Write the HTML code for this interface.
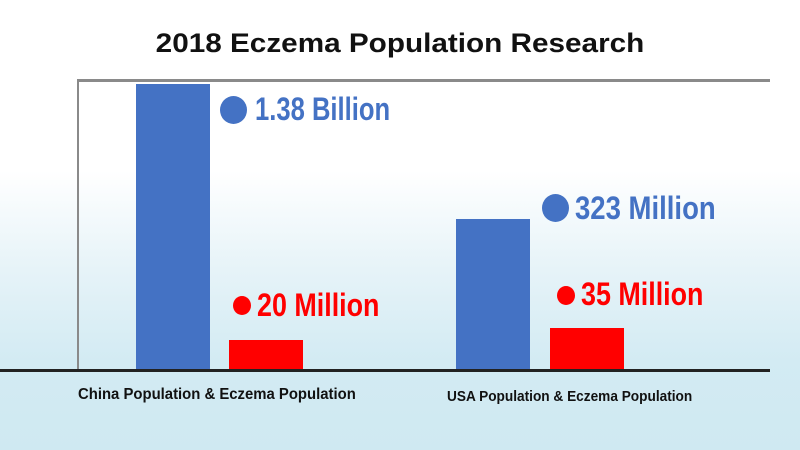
<!DOCTYPE html>
<html><head><meta charset="utf-8"><style>
body{margin:0}
#c{position:relative;width:800px;height:450px;overflow:hidden;background:linear-gradient(to bottom,#ffffff 0%,#ffffff 38%,#e6f3f8 60%,#d3ebf3 80%,#cfe9f2 100%);font-family:"Liberation Sans",sans-serif}
.a{position:absolute}
.t{font-weight:bold;white-space:nowrap;transform-origin:0 50%}
</style></head><body><div id="c">
<div class="a t" style="left:0;width:800px;top:28px;text-align:center;font-size:27px;color:#111;transform:scaleX(1.1);transform-origin:50% 50%">2018 Eczema Population Research</div>
<div class="a" style="left:77px;top:79px;width:693px;height:3px;background:#8a8a8a"></div>
<div class="a" style="left:77px;top:79px;width:2px;height:291px;background:#8a8a8a"></div>
<div class="a" style="left:136px;top:84px;width:74px;height:286px;background:#4472c4"></div>
<div class="a" style="left:229px;top:340px;width:74px;height:30px;background:#ff0000"></div>
<div class="a" style="left:456px;top:219px;width:74px;height:151px;background:#4472c4"></div>
<div class="a" style="left:550px;top:328px;width:74px;height:42px;background:#ff0000"></div>
<div class="a" style="left:0;top:369px;width:770px;height:3px;background:#222"></div>
<div class="a" style="left:220px;top:96px;width:27px;height:28px;border-radius:50%;background:#4472c4"></div>
<div class="a t" style="left:255px;top:91px;font-size:32px;color:#4472c4;transform:scaleX(0.8)">1.38 Billion</div>
<div class="a" style="left:542px;top:194px;width:27px;height:28px;border-radius:50%;background:#4472c4"></div>
<div class="a t" style="left:575px;top:190px;font-size:32px;color:#4472c4;transform:scaleX(0.86)">323 Million</div>
<div class="a" style="left:233px;top:296px;width:18px;height:19px;border-radius:50%;background:#f00"></div>
<div class="a t" style="left:257px;top:287px;font-size:32px;color:#f00;transform:scaleX(0.84)">20 Million</div>
<div class="a" style="left:557px;top:286px;width:18px;height:19px;border-radius:50%;background:#f00"></div>
<div class="a t" style="left:581px;top:276px;font-size:32px;color:#f00;transform:scaleX(0.84)">35 Million</div>
<div class="a t" style="left:78px;top:386px;font-size:16px;color:#111;transform:scaleX(0.93)">China Population &amp; Eczema Population</div>
<div class="a t" style="left:447px;top:388px;font-size:15px;color:#111;transform:scaleX(0.91)">USA Population &amp; Eczema Population</div>
</div></body></html>
